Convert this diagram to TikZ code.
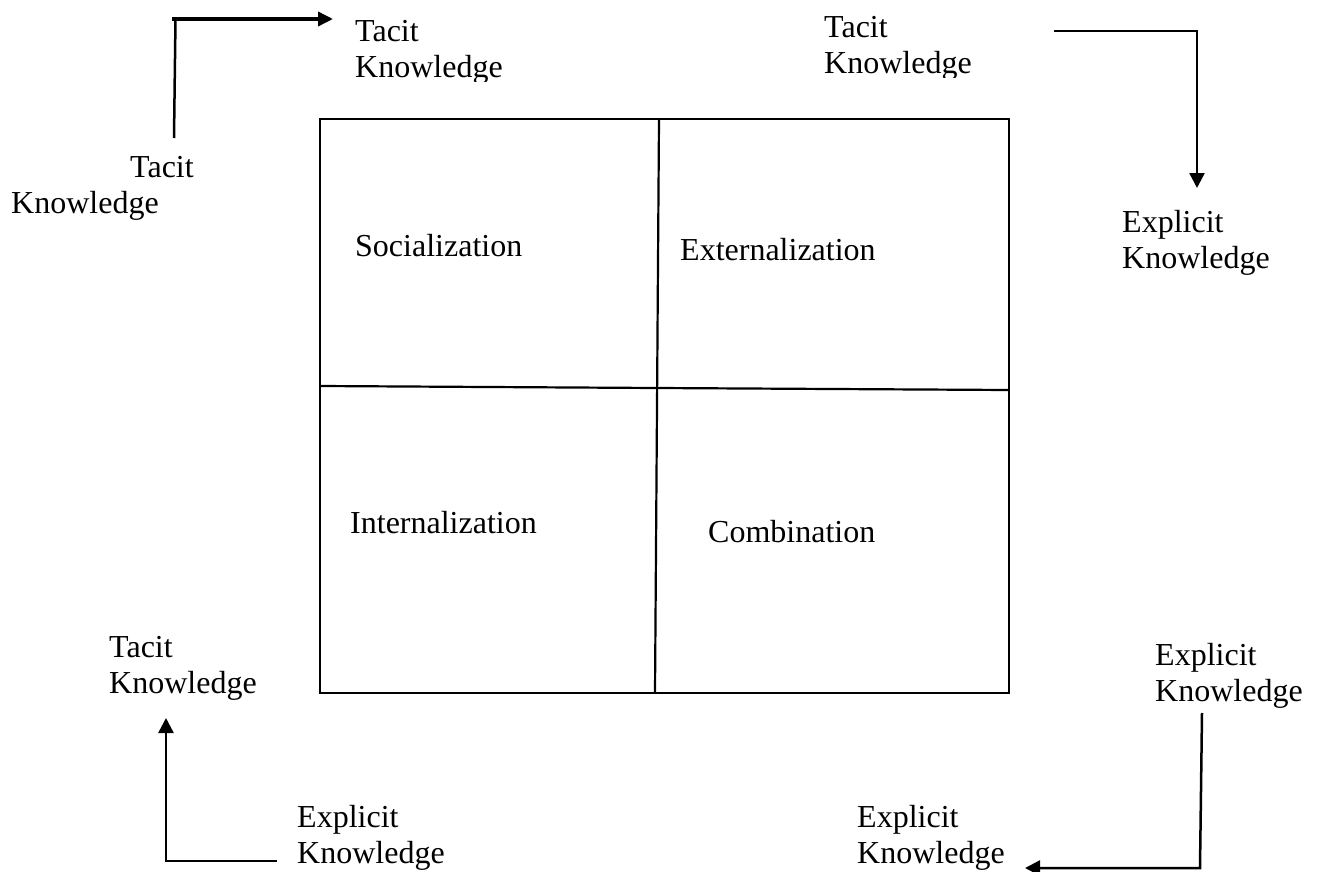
\documentclass[tikz,border=0pt]{standalone}
\usepackage{fontspec}
\setmainfont{Liberation Serif}
\usetikzlibrary{arrows.meta}
\newcommand\twoline[2]{\begin{tabular}[t]{@{}l@{}}#1\\#2\end{tabular}}
\begin{document}
\begin{tikzpicture}[x=1pt,y=-1pt,
  lbl/.style={anchor=base west, inner sep=0pt, font=\fontsize{32}{36}\selectfont},
  gridline/.style={line width=2.2pt},
  plainline/.style={line width=2.5pt},
  conn/.style={line width=2.5pt, -{Triangle[length=15pt,width=15pt]}},
  thickconn/.style={line width=3.5pt, -{Triangle[length=15pt,width=14pt]}}]
\useasboundingbox (0,0) rectangle (1320,872);

% grid
\coordinate (nw) at (320,119);
\coordinate (se) at (1009,693);
\coordinate (vt) at (659,119);
\coordinate (vb) at (655,693);
\coordinate (hl) at (320,386);
\coordinate (hm) at (657,388);
\coordinate (hr) at (1009,390);
\draw[gridline] (nw) rectangle (se);
\draw[gridline] (vt) -- (vb);
\draw[gridline] (hl) -- (hm) -- (hr);

% cell labels
\node[lbl] (soc) at (355,256) {Socialization};
\node[lbl] (ext) at (680,260) {Externalization};
\node[lbl] (int) at (350,533) {Internalization};
\node[lbl] (com) at (708,542) {Combination};

% outer labels
\begin{scope}
  \clip (340,0) rectangle (560,82);
  \node[lbl] (tk1) at (355,42) {\twoline{Tacit}{Knowledge}};
\end{scope}
\begin{scope}
  \clip (800,0) rectangle (1040,77.5);
  \node[lbl] (tk2) at (824,38) {\twoline{Tacit}{Knowledge}};
\end{scope}
\node[lbl] (tk0) at (11,177) {\twoline{\hspace*{119pt}Tacit}{Knowledge}};
\node[lbl] (ek1) at (1122,232) {\twoline{Explicit}{Knowledge}};
\node[lbl] (tk3) at (109,657) {\twoline{Tacit}{Knowledge}};
\node[lbl] (ek2) at (297,827) {\twoline{Explicit}{Knowledge}};
\node[lbl] (ek3) at (1155,665) {\twoline{Explicit}{Knowledge}};
\node[lbl] (ek4) at (857,827) {\twoline{Explicit}{Knowledge}};

% connectors
\coordinate (a1) at (174,138);
\coordinate (a2) at (175.5,19);
\coordinate (a2s) at (172,19);
\coordinate (a3) at (333,19);
\draw[plainline] (a1) -- (a2);
\draw[thickconn] (a2s) -- (a3);

\coordinate (b1) at (1054,31);
\coordinate (b2) at (1197,31);
\coordinate (b3) at (1197,188);
\draw[conn] (b1) -- (b2) -- (b3);

\coordinate (c1) at (277,861);
\coordinate (c2) at (166,861);
\coordinate (c3) at (166,718);
\draw[conn] (c1) -- (c2) -- (c3);

\coordinate (d1) at (1202,713);
\coordinate (d2) at (1200,868);
\coordinate (d3) at (1025,868);
\draw[conn] (d1) -- (d2) -- (d3);
\end{tikzpicture}
\end{document}
